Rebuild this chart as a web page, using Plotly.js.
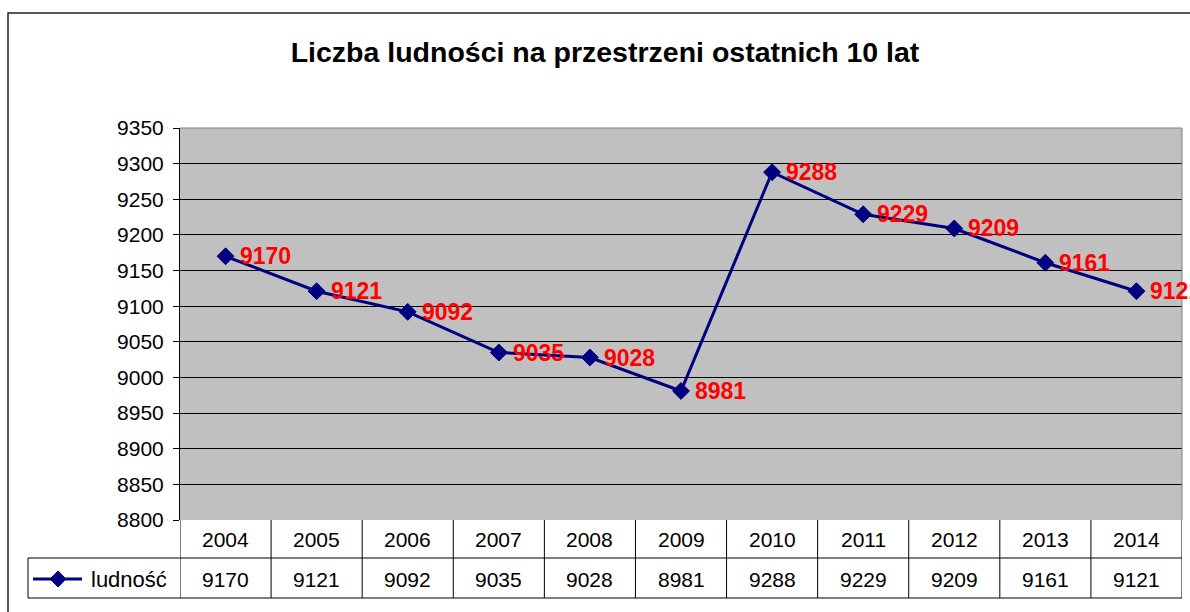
<!DOCTYPE html>
<html>
<head>
<meta charset="utf-8">
<script src="https://cdn.plot.ly/plotly-3.0.1.min.js"></script>
<style>html,body{margin:0;padding:0;background:#fff;}#chart{width:1190px;height:612px;}</style>
</head>
<body>
<div id="chart"></div>
<script>
const chartTitle = 'Liczba ludności na przestrzeni ostatnich 10 lat';
const seriesName = 'ludność';
const years = ['2004','2005','2006','2007','2008','2009','2010','2011','2012','2013','2014'];
const population = [9170, 9121, 9092, 9035, 9028, 8981, 9288, 9229, 9209, 9161, 9121];
const yTicks = [8800, 8850, 8900, 8950, 9000, 9050, 9100, 9150, 9200, 9250, 9300, 9350];

const W = 1190, H = 612;
const L = 180, R = 1182, T = 128, B = 520;
const px = x => (x - L) / (R - L);
const py = y => (B - y) / (B - T);
const FONT = 'Liberation Sans, Arial, sans-serif';
const navy = '#000080';

const shapes = [];
const annotations = [];
// outer chart border
shapes.push({type:'rect', xref:'paper', yref:'paper', x0:px(8), x1:px(1200), y0:py(13), y1:py(640), line:{color:'#222', width:1.5}, fillcolor:'rgba(0,0,0,0)', layer:'below'});
// plot area border (top/right gray)
shapes.push({type:'line', xref:'paper', yref:'paper', x0:0, x1:1, y0:1, y1:1, line:{color:'#808080', width:1}});
shapes.push({type:'line', xref:'paper', yref:'paper', x0:1, x1:1, y0:0, y1:1, line:{color:'#808080', width:1}});
// data table lines
const tableLine = {color:'#000', width:1};
shapes.push({type:'line', xref:'paper', yref:'paper', x0:px(28), x1:1, y0:py(558), y1:py(558), line:tableLine});
shapes.push({type:'line', xref:'paper', yref:'paper', x0:px(28), x1:1, y0:py(598), y1:py(598), line:tableLine});
shapes.push({type:'line', xref:'paper', yref:'paper', x0:px(28), x1:px(28), y0:py(558), y1:py(598), line:tableLine});
for (let i = 0; i <= years.length; i++) {
  shapes.push({type:'line', xref:'x', yref:'paper', x0:i-0.5, x1:i-0.5, y0:0, y1:py(598), line:tableLine});
}
// legend key in table
const keyY = py(579);
shapes.push({type:'line', xref:'paper', yref:'paper', x0:px(33), x1:px(82), y0:keyY, y1:keyY, line:{color:navy, width:3}});
const cx = 58, cy = 579, d = 8;
shapes.push({type:'path', xref:'paper', yref:'paper',
  path:`M ${px(cx-d)} ${py(cy)} L ${px(cx)} ${py(cy-d)} L ${px(cx+d)} ${py(cy)} L ${px(cx)} ${py(cy+d)} Z`,
  fillcolor:navy, line:{color:navy, width:1}});
annotations.push({xref:'paper', yref:'paper', x:px(89), y:py(579), xanchor:'left', yanchor:'middle', text:seriesName, showarrow:false, font:{family:FONT, size:22, color:'#000'}});
// table text
years.forEach((yr, i) => {
  annotations.push({xref:'x', yref:'paper', x:i, y:py(539), xanchor:'center', yanchor:'middle', text:yr, showarrow:false, font:{family:FONT, size:21, color:'#000'}});
  annotations.push({xref:'x', yref:'paper', x:i, y:py(579), xanchor:'center', yanchor:'middle', text:String(population[i]), showarrow:false, font:{family:FONT, size:21, color:'#000'}});
  // data labels
  annotations.push({xref:'x', yref:'y', x:i, y:population[i], xanchor:'left', yanchor:'middle', xshift:12, text:'<b>'+population[i]+'</b>', showarrow:false, font:{family:FONT, size:23, color:'#ff0000'}});
});

const trace = {
  type:'scatter', mode:'lines+markers', name:seriesName,
  x: years, y: population,
  line:{color:navy, width:3},
  marker:{symbol:'diamond', size:13, color:navy, line:{color:navy, width:1}},
  cliponaxis:false, hoverinfo:'x+y'
};

const layout = {
  width:W, height:H,
  margin:{l:L, r:W-R, t:T, b:H-B, pad:0},
  paper_bgcolor:'#fff', plot_bgcolor:'#C0C0C0',
  showlegend:false,
  title:{text:'<b>'+chartTitle+'</b>', font:{family:FONT, size:28.5, color:'#000'}, xref:'container', yref:'container', x:605/W, y:1-52/H, xanchor:'center', yanchor:'middle'},
  xaxis:{type:'category', range:[-0.5, years.length-0.5], showticklabels:false, showgrid:false, zeroline:false, showline:false, ticks:'', fixedrange:true},
  yaxis:{range:[yTicks[0], yTicks[yTicks.length-1]], tickvals:yTicks, ticktext:yTicks.map(String), showgrid:true, gridcolor:'#000', gridwidth:1, zeroline:false, showline:true, linecolor:'#000', linewidth:1, ticks:'outside', ticklen:6, tickcolor:'#000', tickfont:{family:FONT, size:21, color:'#000'}, ticklabelstandoff:5, fixedrange:true},
  shapes: shapes,
  annotations: annotations
};

Plotly.newPlot('chart', [trace], layout, {displayModeBar:false, staticPlot:true});
</script>
</body>
</html>
